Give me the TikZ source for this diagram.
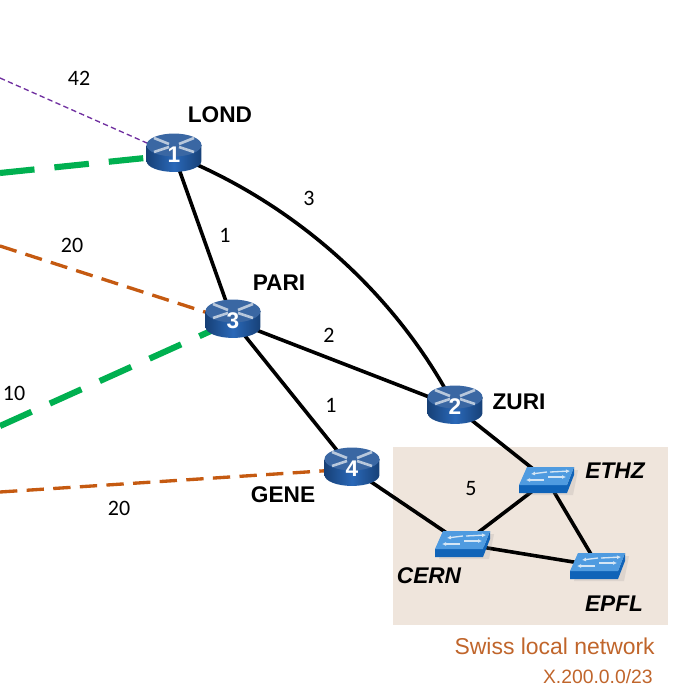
\documentclass[tikz,border=0pt]{standalone}
\usepackage{fontspec}
\setmainfont{Liberation Sans}
\newfontfamily\calfont{Carlito}
\usetikzlibrary{arrows.meta}
\pgfdeclarelayer{back}
\pgfdeclarelayer{links}
\pgfsetlayers{back,links,main}
\definecolor{beigebg}{HTML}{EFE5DC}
\definecolor{orangelink}{HTML}{C55A11}
\definecolor{greenlink}{HTML}{00B050}
\definecolor{purplelink}{HTML}{7030A0}
\definecolor{rtop}{HTML}{3A67A3}
\definecolor{rbodya}{HTML}{1B4C8C}
\definecolor{rbodyb}{HTML}{2A68B8}
\definecolor{rmark}{HTML}{B8C8DC}
\definecolor{swtop}{HTML}{4F9BE0}
\definecolor{swfront}{HTML}{0F63B8}
\definecolor{swmark}{HTML}{D5E6F5}
\definecolor{nettext}{HTML}{C0652B}
\tikzset{
  x=0.75pt,y=-0.75pt,
  wire/.style={draw=black,line width=2.7pt},
  purpledash/.style={draw=purplelink,line width=1pt,dash pattern=on 4pt off 2.5pt},
  orangedash/.style={draw=orangelink,line width=2.5pt,dash pattern=on 13pt off 7pt},
  greendash/.style={draw=greenlink,line width=4.6pt,dash pattern=on 26pt off 15pt},
  metric/.style={font=\calfont\fontsize{16.5}{19}\selectfont,text=black,inner sep=0pt},
  rname/.style={font=\fontsize{17}{20}\selectfont\bfseries,text=black,inner sep=0pt},
  sname/.style={font=\fontsize{17}{20}\selectfont\bfseries\itshape,text=black,inner sep=0pt},
  rnum/.style={font=\fontsize{17}{20}\selectfont\bfseries,text=white,inner sep=0pt,minimum width=40pt,minimum height=28pt},
  snode/.style={inner sep=0pt,minimum width=40pt,minimum height=20pt},
  rmk/.style={draw=rmark,line width=2pt},
  smk/.style={draw=swmark,line width=1pt}
}
\newcommand{\routerat}[4]{%
  \begin{scope}[shift={(#2,#3)}]
    \path[left color=rbodya!85!black,right color=rbodya!85!black,middle color=rbodyb]
      (-27.5,-8) -- (-27.5,8) arc[x radius=20.6pt,y radius=8.2pt,start angle=180,end angle=360] -- (27.5,-8) -- cycle;
    \path[fill=rtop] (0,-8) ellipse[x radius=20.6pt,y radius=8.6pt];
    \draw[rmk] (-20,-15) -- (-5,-9) (5,-6) -- (20,-1) (20,-15) -- (5,-9) (-5,-6) -- (-20,-1);
    \node[rnum] (#1) at (0,2) {#4};
  \end{scope}}
\newcommand{\switchat}[3]{%
  \begin{scope}[shift={(#2,#3)}]
    \path[fill=black!45,opacity=.18] (-18,-10) -- (31,-10) -- (26,15) -- (-24,15) -- cycle;
    \path[fill=swfront] (-28,5) -- (20,5) -- (27,-13) -- (27,-5) -- (20,13) -- (-28,13) -- cycle;
    \path[fill=swtop] (-20,-13) -- (27,-13) -- (20,5) -- (-28,5) -- cycle;
    \draw[smk,-{Latex[length=3pt,width=3pt]}] (0,-8) -- (-16,-6);
    \draw[smk,-{Latex[length=3pt,width=3pt]}] (3,-8) -- (23,-9);
    \draw[smk,-{Latex[length=3pt,width=3pt]}] (-3,0) -- (-21,0);
    \draw[smk,-{Latex[length=3pt,width=3pt]}] (1,-3) -- (19,-3);
    \node[snode] (#1) at (0,0) {};
  \end{scope}}
\begin{document}
\begin{tikzpicture}
\useasboundingbox (0,0) rectangle (699,699);
\routerat{r1}{174}{153}{1}
\routerat{r3}{233}{319}{3}
\routerat{r2}{455}{405}{2}
\routerat{r4}{352}{467}{4}
\switchat{ethz}{547}{480}
\switchat{cern}{463}{544}
\switchat{epfl}{598}{566}
\coordinate (purpleend) at (0,78);
\coordinate (greenendA) at (0,173);
\coordinate (orangeendA) at (0,246);
\coordinate (greenendB) at (0,426);
\coordinate (orangeendB) at (0,492);
\begin{pgfonlayer}{back}
  \node[fill=beigebg,inner sep=0pt,minimum width=206.25pt,minimum height=133.5pt] (swissbox) at (530,535.5) {};
\end{pgfonlayer}
\begin{pgfonlayer}{links}
  \path[purpledash] (purpleend) -- (r1.center);
  \path[greendash] (greenendA) -- (r1.center);
  \path[orangedash] (orangeendA) -- (r3.center);
  \path[greendash] (greenendB) -- (r3.center);
  \path[orangedash] (orangeendB) -- (r4.center);
  \path[wire] (r1.center) -- (r3.center);
  \path[wire] (r1.center) .. controls (300,205) and (400,300) .. (r2.center);
  \path[wire] (r3.center) -- (r2.center);
  \path[wire] (r3.center) -- (r4.center);
  \path[wire] (r4.center) -- (cern.center);
  \path[wire] (r2.center) -- (ethz.center);
  \path[wire] (ethz.center) -- (cern.center);
  \path[wire] (ethz.center) -- (epfl.center);
  \path[wire] (cern.center) -- (epfl.center);
\end{pgfonlayer}
\node[rname] (lond) at (220,115) {LOND};
\node[rname] (pari) at (279,283) {PARI};
\node[rname] (zuri) at (519,402) {ZURI};
\node[rname] (gene) at (283,495) {GENE};
\node[sname] (ethzl) at (615,471) {ETHZ};
\node[sname] (cernl) at (429,576) {CERN};
\node[sname] (epfll) at (614,604) {EPFL};
\node[metric] (m42) at (79,78) {42};
\node[metric] (m1a) at (225,235) {1};
\node[metric] (m3) at (309,198) {3};
\node[metric] (m2) at (329,335) {2};
\node[metric] (m1b) at (331,405) {1};
\node[metric] (m5) at (471,489) {5};
\node[metric] (m10) at (14,393) {10};
\node[metric] (m20a) at (72,245) {20};
\node[metric] (m20b) at (119,508) {20};
\node[font=\fontsize{17.2}{20}\selectfont,text=nettext,inner sep=0pt,anchor=east] (swiss) at (655,646) {Swiss local network};
\node[font=\fontsize{14.5}{17}\selectfont,text=nettext,inner sep=0pt,anchor=east] (prefix) at (653,677) {X.200.0.0/23};
\end{tikzpicture}
\end{document}
